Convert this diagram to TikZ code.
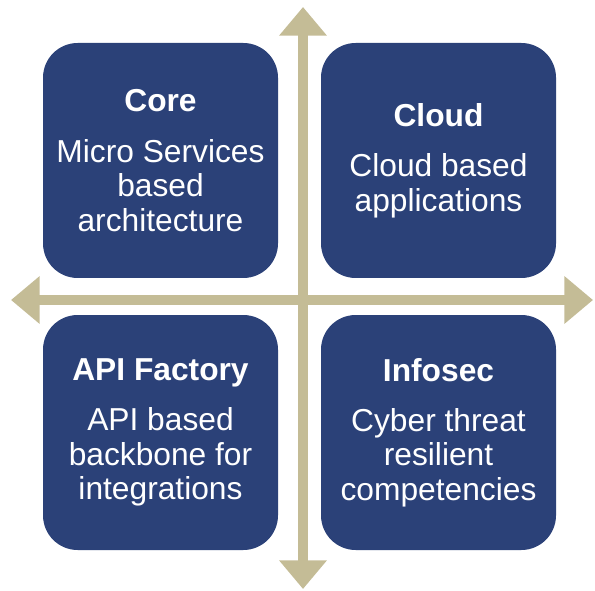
\documentclass[tikz,border=0pt]{standalone}
\usepackage{fontspec}
\setmainfont{Liberation Sans}
\usetikzlibrary{arrows.meta}
\definecolor{quadBlue}{RGB}{43,65,120}
\definecolor{axisTan}{RGB}{196,188,150}
\tikzset{
  quadbox/.style={fill=quadBlue, draw=none, rounded corners=26pt, minimum width=176.25pt, minimum height=176.25pt, inner sep=0pt, align=center, text=white, font=\fontsize{23.8pt}{25.8pt}\selectfont},
  axisline/.style={draw=axisTan, line width=8pt, {Triangle[width=34.5pt,length=21.5pt]}-{Triangle[width=34.5pt,length=21.5pt]}}
}
\begin{document}
\begin{tikzpicture}[x=0.75pt,y=0.75pt,yscale=-1,xscale=1]
\useasboundingbox (0,0) rectangle (595,591);

%Axis end points
\coordinate (axTop) at (303,7);
\coordinate (axBottom) at (303,589);
\coordinate (axLeft) at (11,300);
\coordinate (axRight) at (593,300);

%Straight Lines
\draw [axisline] (axTop) -- (axBottom);
%Straight Lines
\draw [axisline] (axLeft) -- (axRight);

% Rounded boxes
\node [quadbox] (core) at (160.5,160.5) {\textbf{Core}\\[12pt]Micro Services\\based\\architecture};
\node [quadbox] (cloud) at (438.5,160.5) {\textbf{Cloud}\\[12pt]Cloud based\\applications};
\node [quadbox] (apiFactory) at (160.5,432.5) {\textbf{API Factory}\\[12pt]API based\\backbone for\\integrations};
\node [quadbox] (infosec) at (438.5,432.5) {\textbf{Infosec}\\[12pt]Cyber threat\\resilient\\competencies};
\end{tikzpicture}
\end{document}
